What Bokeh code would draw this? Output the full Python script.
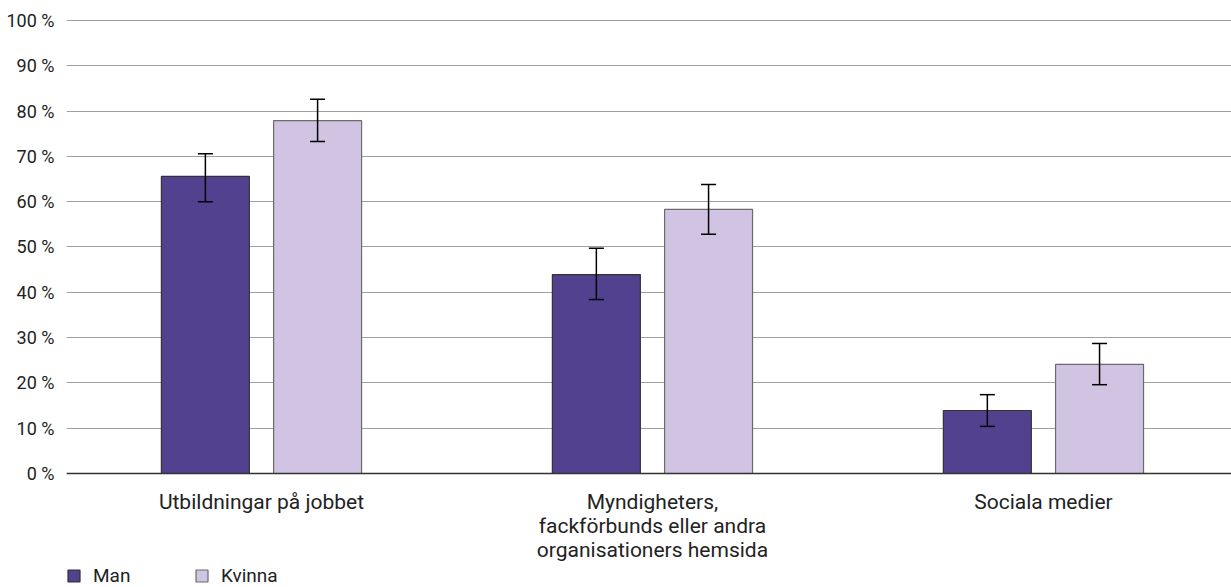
from bokeh.plotting import figure
from bokeh.models import ColumnDataSource, Range1d, Whisker, TeeHead, Legend, LegendItem, FixedTicker, Span
from bokeh.embed import file_html
from bokeh.resources import INLINE

categories = ["Utbildningar på jobbet",
              "Myndigheters,\nfackförbunds eller andra\norganisationers hemsida",
              "Sociala medier"]
series = ["Man", "Kvinna"]
man_values = [65.6, 43.9, 13.9]
man_lower = [60.0, 38.4, 10.4]
man_upper = [70.6, 49.7, 17.4]
kvinna_values = [77.9, 58.3, 24.1]
kvinna_lower = [73.3, 52.8, 19.6]
kvinna_upper = [82.6, 63.8, 28.7]
y_ticks = [0, 10, 20, 30, 40, 50, 60, 70, 80, 90, 100]
y_tick_labels = [f"{t} %" for t in y_ticks]

FONT = "Roboto"
offset = 0.1435
bar_w = 0.225

p = figure(width=1231, height=587, output_backend="svg", toolbar_location=None,
           x_range=Range1d(-0.4987, 2.481), y_range=Range1d(-25.17, 100.22),
           min_border_left=66, min_border_right=0, min_border_top=19, min_border_bottom=0)
p.outline_line_color = None
p.background_fill_color = "white"

xs = list(range(len(categories)))
src_m = ColumnDataSource(dict(x=[x - offset for x in xs], top=man_values, lo=man_lower, hi=man_upper))
src_k = ColumnDataSource(dict(x=[x + offset for x in xs], top=kvinna_values, lo=kvinna_lower, hi=kvinna_upper))
src_lab = ColumnDataSource(dict(x=xs, y=[0] * len(xs), text=categories))

r_m = p.vbar(x="x", top="top", bottom=0, width=bar_w, source=src_m, fill_color="#52418f", line_color="#333333", line_width=1.2)
r_k = p.vbar(x="x", top="top", bottom=0, width=bar_w, source=src_k, fill_color="#d1c4e2", line_color="#6b6b6b", line_width=1.2)

for src in (src_m, src_k):
    w = Whisker(base="x", upper="hi", lower="lo", source=src, line_color="black", line_width=1.5,
                level="overlay",
                upper_head=TeeHead(size=15, line_color="black", line_width=1.5),
                lower_head=TeeHead(size=15, line_color="black", line_width=1.5))
    p.add_layout(w)

p.add_layout(Span(location=0, dimension="width", line_color="#333333", line_width=1.5))

p.text(x="x", y="y", text="text", source=src_lab, y_offset=17,
       text_align="center", text_baseline="top", text_line_height=1.0,
       text_font={"value": FONT}, text_font_size="21px", text_color="#222222")

p.xgrid.grid_line_color = None
p.ygrid.grid_line_color = "#a0a0a0"
p.ygrid.grid_line_width = 1
p.ygrid.ticker = FixedTicker(ticks=y_ticks)

p.xaxis.visible = False

p.yaxis.ticker = FixedTicker(ticks=y_ticks)
p.yaxis.major_label_overrides = {t: l for t, l in zip(y_ticks, y_tick_labels)}
p.yaxis.axis_line_color = None
p.yaxis.major_tick_line_color = None
p.yaxis.minor_tick_line_color = None
p.yaxis.major_label_text_font = FONT
p.yaxis.major_label_text_font_size = "18px"
p.yaxis.major_label_text_color = "#222222"
p.yaxis.major_label_standoff = 6

legend = Legend(items=[LegendItem(label=series[0], renderers=[r_m]),
                       LegendItem(label=series[1], renderers=[r_k])],
                orientation="horizontal", location=(0, 0),
                padding=0, margin=0, spacing=0,
                glyph_width=15, glyph_height=15, label_height=20, label_standoff=12, label_width=101,
                label_text_font=FONT, label_text_font_size="19px", label_text_color="#222222",
                border_line_alpha=0, background_fill_alpha=0)
p.add_layout(legend, "center")

open("out.html", "w").write(file_html(p, INLINE))
